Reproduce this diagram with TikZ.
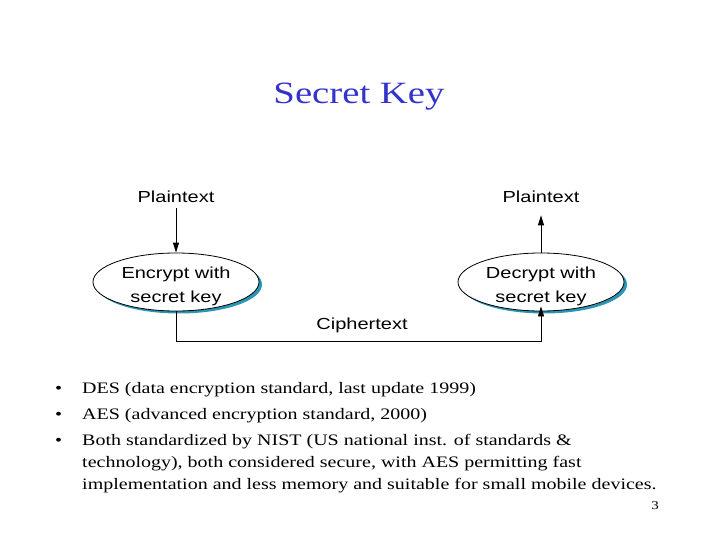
\documentclass[tikz,border=0pt]{standalone}
\usepackage{fontspec}
\setmainfont{Liberation Serif}[FakeStretch=1.25]
\newfontfamily\arialf{Liberation Sans}[FakeStretch=1.25]
\usetikzlibrary{shapes.geometric,arrows.meta,shadows}
\definecolor{titleblue}{RGB}{51,51,204}
\definecolor{shadowteal}{RGB}{40,150,180}
\tikzset{
  ptext/.style={align=center, inner sep=0pt, font=\arialf\fontsize{16}{24}\selectfont},
  proc/.style={ellipse, draw=black, line width=0.8pt, fill=white, minimum width=166pt, minimum height=58pt, inner sep=0pt,
    drop shadow={shadow xshift=3pt, shadow yshift=-2.5pt, fill=shadowteal, opacity=1}},
  lbl/.style={font=\arialf\fontsize{16}{20}\selectfont, inner xsep=0pt, inner ysep=5pt, anchor=base},
  conn/.style={line width=0.8pt, -{Triangle[length=10pt,width=6pt]}},
  bul/.style={font=\fontsize{16}{22}\selectfont, anchor=base west, inner sep=0pt, align=left}
}
\begin{document}
\begin{tikzpicture}[x=1pt,y=-1pt]
\useasboundingbox (0,0) rectangle (720,540);
\node[font=\fontsize{31}{36}\selectfont, text=titleblue, anchor=base] (title) at (359,104) {Secret Key};
\node[lbl] (p1) at (176,203) {Plaintext};
\node[lbl] (p2) at (541,203) {Plaintext};
\node[proc, label={[ptext, yshift=-4pt]center:{Encrypt with\\secret key}}] (enc) at (176,282) {};
\node[proc, label={[ptext, yshift=-4pt]center:{Decrypt with\\secret key}}] (dec) at (541,282) {};
\node[lbl, inner ysep=0pt] (ct) at (362,329) {Ciphertext};
\coordinate (c1) at (176,341);
\coordinate (c2) at (541,341);
\draw[conn] (p1) -- (enc);
\draw[conn, shorten >=7pt] (dec) -- (p2);
\draw[conn, shorten >=-5pt] (enc.south) -- (c1) -- (c2) -- (dec.south);
\node[bul] (b1) at (55,393) {\textbullet};
\node[bul] (t1) at (82,393) {DES (data encryption standard, last update 1999)};
\node[bul] (b2) at (55,419) {\textbullet};
\node[bul] (t2) at (82,419) {AES (advanced encryption standard, 2000)};
\node[bul] (b3) at (55,445) {\textbullet};
\node[bul] (t3) at (82,489) {Both standardized by NIST (US national inst. of standards \&\\technology), both considered secure, with AES permitting fast\\implementation and less memory and suitable for small mobile devices.};
\node[font=\fontsize{12}{14}\selectfont, anchor=base] (pg) at (655,509) {3};
\end{tikzpicture}
\end{document}
